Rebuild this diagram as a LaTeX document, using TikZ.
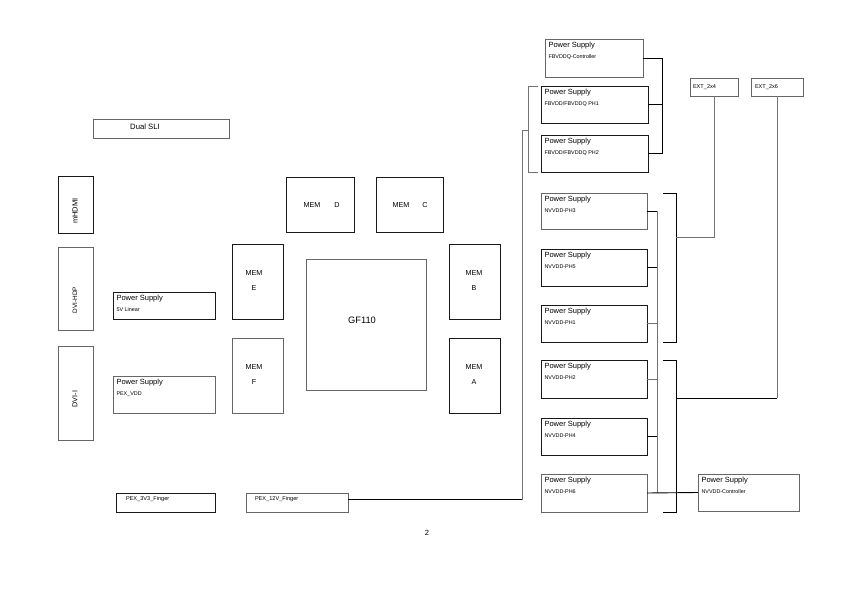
\documentclass[tikz,border=0pt]{standalone}
\usepackage{fontspec}
\setmainfont{Liberation Sans}
\usetikzlibrary{calc}
\tikzset{
  boxb/.style={draw=black!90, line width=0.9pt, inner sep=0pt, outer sep=0pt, anchor=north west},
  boxg/.style={draw=black!60, line width=0.9pt, inner sep=0pt, outer sep=0pt, anchor=north west},
  txt/.style={inner sep=0pt, outer sep=0pt, text=black},
  pstitle/.style={txt, anchor=west, font=\fontsize{7.5}{8}\selectfont},
  pssub/.style={txt, anchor=west, font=\fontsize{5.4}{6}\selectfont},
  small/.style={txt, anchor=west, font=\fontsize{5.6}{6}\selectfont},
  memtxt/.style={txt, font=\fontsize{7.2}{8}\selectfont},
  wireb/.style={draw=black, line width=0.9pt},
  wireg/.style={draw=black!55, line width=0.9pt},
}
% box: name, style, x1, y1, x2, y2
\newcommand\bx[6]{\node[#2, minimum width={(#5-#3)*1pt}, minimum height={(#6-#4)*1pt}] (#1) at (#3,#4) {};}
% power supply box: name, style, x1, y1, x2, y2, subtitle
\newcommand\pbx[7]{\bx{#1}{#2}{#3}{#4}{#5}{#6}%
  \node[pstitle] (#1-t) at ($(#1.north west)+(3.5,7)$) {Power Supply};%
  \node[pssub] (#1-s) at ($(#1.north west)+(3.5,18)$) {#7};}
\begin{document}
\begin{tikzpicture}[x=1pt,y=-1pt]
\useasboundingbox (0,0) rectangle (851,601);

% left column
\bx{dualsli}{boxg}{93}{119}{229}{138}
\node[txt, font=\fontsize{7.7}{8}\selectfont] (dualsli-t) at (145,127) {Dual SLI};
\bx{mhdmi}{boxb}{58}{176}{93}{233}
\node[txt, rotate=90, font=\fontsize{7.5}{8}\selectfont] (mhdmi-t) at (75,211) {mHDMI};
\bx{dvihdp}{boxg}{58}{247}{93}{330}
\node[txt, rotate=90, font=\fontsize{6.4}{7}\selectfont] (dvihdp-t) at (75,300) {DVI-HDP};
\bx{dvii}{boxg}{58}{346}{93}{440}
\node[txt, rotate=90, font=\fontsize{7.2}{8}\selectfont] (dvii-t) at (75,399) {DVI-I};

\pbx{psfive}{boxb}{113}{292}{215}{319}{5V Linear}
\pbx{pexvdd}{boxg}{113}{376}{215}{413}{PEX\_VDD}

\bx{pexthree}{boxb}{116}{493}{215}{512}
\node[small] (pexthree-t) at (126,499) {PEX\_3V3\_Finger};
\bx{pextwelve}{boxg}{246}{493}{348}{512}
\node[small] (pextwelve-t) at (255,499) {PEX\_12V\_Finger};

% memory and GPU
\bx{memd}{boxb}{286}{177}{354}{232}
\node[memtxt] (memd-a) at (312,205) {MEM};
\node[memtxt] (memd-b) at (337,205) {D};
\bx{memc}{boxb}{376}{177}{443}{232}
\node[memtxt] (memc-a) at (401,205) {MEM};
\node[memtxt] (memc-b) at (425,205) {C};
\bx{meme}{boxb}{232}{244}{283}{319}
\node[memtxt] (meme-a) at (254,273) {MEM};
\node[memtxt] (meme-b) at (254,288) {E};
\bx{memf}{boxg}{232}{338}{283}{413}
\node[memtxt] (memf-a) at (254,367) {MEM};
\node[memtxt] (memf-b) at (254,382) {F};
\bx{memb}{boxb}{449}{244}{500}{319}
\node[memtxt] (memb-a) at (474,273) {MEM};
\node[memtxt] (memb-b) at (474,288) {B};
\bx{mema}{boxb}{449}{338}{500}{413}
\node[memtxt] (mema-a) at (474,367) {MEM};
\node[memtxt] (mema-b) at (474,382) {A};
\bx{gpu}{boxg}{306}{259}{426}{390}
\node[txt, font=\fontsize{9.3}{10}\selectfont] (gpu-t) at (362,320) {GF110};

% FBVDD supplies
\pbx{fbctrl}{boxg}{545}{39}{643}{77}{FBVDDQ-Controller}
\pbx{fbone}{boxb}{541}{86}{648}{123}{FBVDD/FBVDDQ PH1}
\pbx{fbtwo}{boxb}{541}{135}{648}{172}{FBVDD/FBVDDQ PH2}

% EXT connectors
\bx{extfour}{boxg}{690}{78}{738}{96}
\node[small] (extfour-t) at (693,87) {EXT\_2x4};
\bx{extsix}{boxg}{751}{78}{803}{96}
\node[small] (extsix-t) at (755,87) {EXT\_2x6};

% NVVDD supplies
\pbx{nthree}{boxg}{541}{193}{647}{229}{NVVDD-PH3}
\pbx{nfive}{boxb}{541}{249}{647}{286}{NVVDD-PH5}
\pbx{none}{boxb}{541}{305}{647}{342}{NVVDD-PH1}
\pbx{ntwo}{boxb}{541}{360}{647}{398}{NVVDD-PH2}
\pbx{nfour}{boxb}{541}{418}{647}{455}{NVVDD-PH4}
\pbx{nsix}{boxg}{541}{474}{647}{512}{NVVDD-PH6}
\pbx{nctrl}{boxg}{698}{474}{799}{511}{NVVDD-Controller}

\node[txt, font=\fontsize{7.5}{8}\selectfont] (pagenum) at (427,533) {2};

% FB controller bus
\coordinate (fbx) at (662,0);
\draw[wireb] (fbctrl.east) -- (fbctrl.east -| fbx) -- (fbtwo.east -| fbx) -- (fbtwo.east);
\draw[wireb] (fbone.east) -- (fbone.east -| fbx);

% FB left bracket and 12V feed
\coordinate (lb) at (528,0);
\coordinate (la) at (538,0);
\draw[wireg] (fbone.north west -| la) -- (fbone.north west -| lb) -- (fbtwo.south west -| lb) -- (fbtwo.south west -| la);
\coordinate (ob) at (522,130);
\coordinate (feed) at ($(pextwelve.east)+(0,-3)$);
\draw[wireg] (ob -| lb) -- (ob) -- (ob |- feed);
\draw[wireb] (ob |- feed) -- (feed);

% NVVDD bus
\coordinate (nb) at (657,0);
\draw[wireg] (nthree.east -| nb) -- (nsix.east -| nb);
\draw[wireb] (nthree.east) -- (nthree.east -| nb);
\draw[wireb] (nfive.east) -- (nfive.east -| nb);
\draw[wireg] (none.east) -- (none.east -| nb);
\draw[wireg] (ntwo.east) -- (ntwo.east -| nb);
\draw[wireb] (nfour.east) -- (nfour.east -| nb);
\draw[wireb] (nsix.east) -- (nctrl.west);

% brackets to EXT connectors
\coordinate (ba) at (663,0);
\coordinate (br) at (676,0);
\draw[wireb] (nthree.north -| ba) -- (nthree.north -| br) -- (none.south -| br) -- (none.south -| ba);
\coordinate (mone) at (676,237);
\draw[wireg] (mone) -| (extfour.south);
\draw[wireb] (ntwo.north -| ba) -- (ntwo.north -| br) -- (nsix.south -| br) -- (nsix.south -| ba);
\coordinate (mtwo) at (676,398);
\draw[wireb] (mtwo) -- (mtwo -| extsix.south);
\draw[wireg] (mtwo -| extsix.south) -- (extsix.south);
\end{tikzpicture}
\end{document}
